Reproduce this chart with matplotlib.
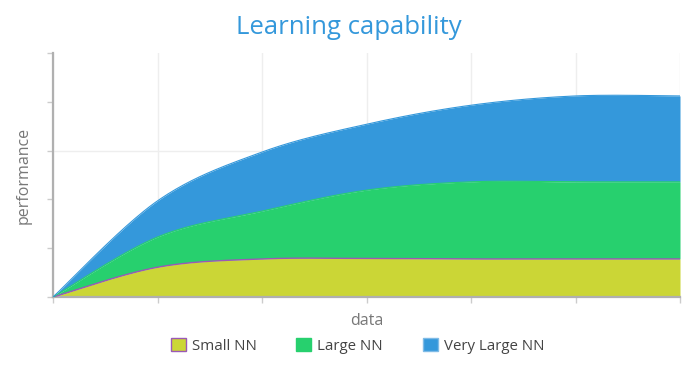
import numpy as np
import matplotlib
matplotlib.use("Agg")
import matplotlib.pyplot as plt
from matplotlib.patches import Patch

plt.rcParams['font.family'] = ['Open Sans', 'DejaVu Sans']

# stacked totals
data_x = [0, 1, 2, 3, 4, 5, 6]
small_nn = [0.0, 0.61, 0.78, 0.79, 0.78, 0.78, 0.78]
large_nn = [0.0, 1.23, 1.76, 2.19, 2.36, 2.36, 2.36]
very_large_nn = [0.0, 1.97, 2.97, 3.54, 3.93, 4.12, 4.12]

names = ['Small NN', 'Large NN', 'Very Large NN']
colors = ['#cbd636', '#27d06e', '#3498db']


def spline(xs, ys, n=40):
    # catmull-rom smoothing of the drawn line (like plotly's spline shape)
    xs = np.asarray(xs, float)
    ys = np.asarray(ys, float)
    px = np.concatenate([[xs[0]], xs, [xs[-1]]])
    py = np.concatenate([[ys[0]], ys, [ys[-1]]])
    outx, outy = [], []
    for i in range(1, len(px) - 2):
        t = np.linspace(0, 1, n, endpoint=False)
        for arr, out in ((px, outx), (py, outy)):
            p0, p1, p2, p3 = arr[i - 1], arr[i], arr[i + 1], arr[i + 2]
            out.extend(0.5 * (2 * p1 + (-p0 + p2) * t
                              + (2 * p0 - 5 * p1 + 4 * p2 - p3) * t ** 2
                              + (-p0 + 3 * p1 - 3 * p2 + p3) * t ** 3))
    outx.append(xs[-1])
    outy.append(ys[-1])
    return np.array(outx), np.array(outy)


fig = plt.figure(figsize=(6.98, 3.66), dpi=100)
ax = fig.add_axes([53 / 698, 69 / 366, 627 / 698, 244 / 366])

sx, s0 = spline(data_x, small_nn)
_, s1 = spline(data_x, large_nn)
_, s2 = spline(data_x, very_large_nn)

ax.fill_between(sx, s1, s2, color=colors[2], lw=0, zorder=2)
ax.fill_between(sx, s0, s1, color=colors[1], lw=0, zorder=2)
ax.fill_between(sx, 0, s0, color=colors[0], lw=0, zorder=2)
ax.plot(sx, s0, color='#9b59b6', lw=1, zorder=3)
ax.plot(sx, s1, color=colors[1], lw=0.8, zorder=3)
ax.plot(sx, s2, color=colors[2], lw=0.8, zorder=3)

ax.set_xlim(0, 6)
ax.set_ylim(0, 5)
ax.set_xticks(data_x)
ax.set_yticks([0, 1, 2, 3, 4, 5])
ax.set_xticklabels([])
ax.set_yticklabels([])
ax.tick_params(length=4, width=1, color='#cccccc')
ax.grid(axis='x', color='#eeeeee', lw=1, zorder=0)
ax.axhline(3, color='#eeeeee', lw=1, zorder=0)

for s in ['top', 'right']:
    ax.spines[s].set_visible(False)
for s in ['left', 'bottom']:
    ax.spines[s].set_color('#b0b0b0')
    ax.spines[s].set_linewidth(1.6)

ax.set_xlabel('data', color='#777777', fontsize=11.5, labelpad=4)
ax.set_ylabel('performance', color='#777777', fontsize=11.5, labelpad=8)
fig.text(0.5, 0.925, 'Learning capability', ha='center', va='center',
         color='#3498db', fontsize=18.5)

handles = [Patch(facecolor=colors[0], edgecolor='#9b59b6', lw=1),
           Patch(facecolor=colors[1], edgecolor=colors[1]),
           Patch(facecolor=colors[2], edgecolor='#7fbbe6')]
leg = fig.legend(handles, names, loc='center', bbox_to_anchor=(0.512, 0.055),
                 ncol=3, frameon=False, fontsize=10.8, handlelength=1.0,
                 handleheight=1.0, handletextpad=0.4, columnspacing=2.65)
for t in leg.get_texts():
    t.set_color('#444444')

fig.savefig('out.png', dpi=100)
